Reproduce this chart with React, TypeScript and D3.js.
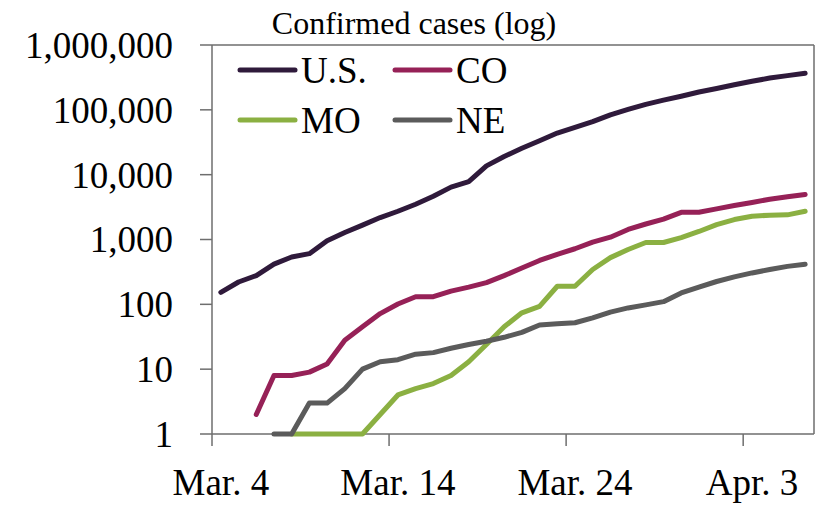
import React from "react";
import * as d3 from "d3";

// days shown on the category axis (Mar 4 .. Apr 6, 2020)
const days = d3.timeDay.range(new Date(2020, 2, 4), new Date(2020, 3, 7));
const tickEvery = 10;
const fmtDay = (d: Date) => d3.timeFormat("%b. %-d")(d);

const usCases = [153, 221, 278, 417, 537, 605, 959, 1281, 1663, 2179, 2726, 3499, 4632, 6421, 7786, 13680, 19101, 25493, 33276, 43847, 53740, 65778, 83836, 101657, 121465, 140909, 161831, 188172, 213372, 243453, 275586, 308850, 337072, 366667];
const coCases = [null, null, 2, 8, 8, 9, 12, 28, 45, 72, 101, 131, 131, 160, 184, 216, 277, 363, 475, 591, 720, 912, 1086, 1430, 1734, 2061, 2627, 2627, 2966, 3342, 3728, 4173, 4565, 4950];
const moCases = [null, null, null, null, 1, 1, 1, 1, 1, 2, 4, 5, 6, 8, 13, 24, 45, 74, 93, 190, 190, 345, 525, 700, 900, 900, 1070, 1330, 1700, 2030, 2290, 2370, 2400, 2720];
const neCases = [null, null, null, 1, 1, 3, 3, 5, 10, 13, 14, 17, 18, 21, 24, 27, 31, 37, 48, 50, 52, 62, 76, 88, 98, 110, 150, 185, 225, 265, 305, 345, 385, 415];

const seriesNames = ["U.S.", "CO", "MO", "NE"];
const seriesColors = ["#2f1a3b", "#962157", "#8bb042", "#5b5b5b"];
const seriesValues = [usCases, coCases, moCases, neCases];

const yTicks = [1, 10, 100, 1000, 10000, 100000, 1000000];

const W = 825;
const H = 505;
const left = 212;
const right = 814;
const top = 45;
const bottom = 434;
const font = '"Liberation Serif", "DejaVu Serif", serif';
const axisColor = "#6e6e6e";

export default function App() {
  const x = d3
    .scaleBand<number>()
    .domain(days.map((_, i) => i))
    .range([left, right])
    .padding(0);
  const y = d3.scaleLog().domain([1, 1000000]).range([bottom, top]);
  const cx = (i: number) => (x(i) as number) + x.bandwidth() / 2;

  const line = d3
    .line<number | null>()
    .defined((d) => d != null)
    .x((_, i) => cx(i))
    .y((d) => y(d as number));

  const fmt = d3.format(",");
  const tickIdx = days.map((_, i) => i).filter((i) => i % tickEvery === 0);

  return (
    <svg
      width={W}
      height={H}
      style={{ position: "absolute", left: 0, top: 0, background: "#fff", fontFamily: font }}
    >
      {/* plot border top/right */}
      <line x1={left} x2={right} y1={top} y2={top} stroke={axisColor} strokeWidth={1.5} />
      <line x1={right} x2={right} y1={top} y2={bottom} stroke={axisColor} strokeWidth={1.5} />

      {/* y axis */}
      <line x1={left} x2={left} y1={top} y2={bottom} stroke={axisColor} strokeWidth={1.5} />
      {yTicks.map((t) => (
        <g key={t}>
          <line x1={left - 12} x2={left} y1={y(t)} y2={y(t)} stroke={axisColor} strokeWidth={1.5} />
          <text x={173} y={y(t)} dy="0.35em" textAnchor="end" fontSize={37} fill="#000">
            {fmt(t)}
          </text>
        </g>
      ))}

      {/* x axis */}
      <line x1={left} x2={right} y1={bottom} y2={bottom} stroke={axisColor} strokeWidth={1.5} />
      {tickIdx.map((i) => (
        <g key={i}>
          <line x1={x(i)} x2={x(i)} y1={bottom} y2={bottom + 12} stroke={axisColor} strokeWidth={1.5} />
          <text x={cx(i)} y={495} textAnchor="middle" fontSize={37} fill="#000">
            {fmtDay(days[i])}
          </text>
        </g>
      ))}

      {/* series */}
      {seriesValues.map((vals, k) => (
        <path
          key={seriesNames[k]}
          d={line(vals) || ""}
          fill="none"
          stroke={seriesColors[k]}
          strokeWidth={5}
          strokeLinejoin="round"
          strokeLinecap="round"
        />
      ))}

      {/* title */}
      <text x={414} y={34} textAnchor="middle" fontSize={32} fill="#000">
        Confirmed cases (log)
      </text>

      {/* legend */}
      {seriesNames.map((name, k) => {
        const lx = k % 2 === 0 ? 240 : 395;
        const ly = k < 2 ? 70 : 120;
        return (
          <g key={name}>
            <line x1={lx} x2={lx + 55} y1={ly} y2={ly} stroke={seriesColors[k]} strokeWidth={5} strokeLinecap="round" />
            <text x={lx + 61} y={ly} dy="0.35em" fontSize={37} fill="#000">
              {name}
            </text>
          </g>
        );
      })}
    </svg>
  );
}
